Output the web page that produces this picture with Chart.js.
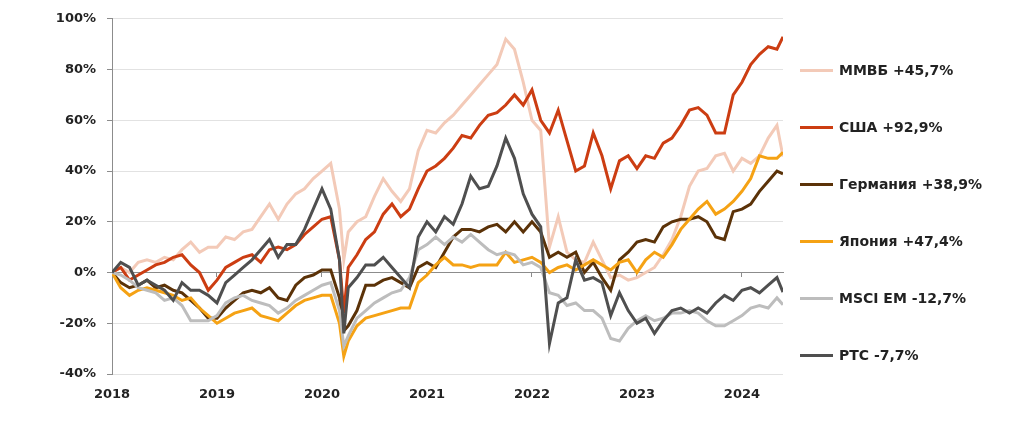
<!DOCTYPE html>
<html>
<head>
<meta charset="utf-8">
<script src="https://cdn.jsdelivr.net/npm/chart.js@4.4.0/dist/chart.umd.min.js"></script>
<style>
  html, body { margin: 0; padding: 0; background: #fff; }
  #wrap { position: relative; width: 1024px; height: 424px; }
  #legend { position: absolute; left: 0; top: 0; font-family: 'DejaVu Sans'; font-weight: bold; font-size: 14px; color: #222; }
  .item { position: absolute; left: 800px; height: 20px; line-height: 20px; white-space: nowrap; display: flex; align-items: center; }
  .item i { display: inline-block; width: 33px; height: 3px; margin-right: 6px; }
</style>
</head>
<body>
<div id="wrap">
  <canvas id="myChart" width="1024" height="424"></canvas>
  <div id="legend"></div>
</div>
<script>
// даты (месячные точки + дно марта 2020)
const dates = [
  '2018-01','2018-02','2018-03','2018-04','2018-05','2018-06','2018-07','2018-08','2018-09','2018-10','2018-11','2018-12',
  '2019-01','2019-02','2019-03','2019-04','2019-05','2019-06','2019-07','2019-08','2019-09','2019-10','2019-11','2019-12',
  '2020-01','2020-02','2020-03','2020-03-16','2020-04','2020-05','2020-06','2020-07','2020-08','2020-09','2020-10','2020-11','2020-12',
  '2021-01','2021-02','2021-03','2021-04','2021-05','2021-06','2021-07','2021-08','2021-09','2021-10','2021-11','2021-12',
  '2022-01','2022-02','2022-03','2022-04','2022-05','2022-06','2022-07','2022-08','2022-09','2022-10','2022-11','2022-12',
  '2023-01','2023-02','2023-03','2023-04','2023-05','2023-06','2023-07','2023-08','2023-09','2023-10','2023-11','2023-12',
  '2024-01','2024-02','2024-03','2024-04','2024-05','2024-05-22'
];

const names = ['ММВБ +45,7%', 'США +92,9%', 'Германия +38,9%', 'Япония +47,4%', 'MSCI EM  -12,7%', 'РТС -7,7%'];
const colors = ['#F3CAB8', '#CC3D12', '#5B3208', '#F5A214', '#BDBDBD', '#4F4F4F'];

const mmvb = [
  0, 2, 0, 4, 5, 4, 6, 5, 9, 12, 8, 10,
  10, 14, 13, 16, 17, 22, 27, 21, 27, 31, 33, 37,
  40, 43, 25, 5, 16, 20, 22, 30, 37, 32, 28, 33, 48,
  56, 55, 59, 62, 66, 70, 74, 78, 82, 92, 88, 75,
  60, 56, 10, 22, 8, 5, 4, 12, 5, -2, -1, -3,
  -2, 0, 2, 7, 13, 22, 34, 40, 41, 46, 47, 40,
  45, 43, 46, 53, 58, 45.7
];
const usa = [
  0, 2, -3, -1, 1, 3, 4, 6, 7, 3, 0, -7,
  -3, 2, 4, 6, 7, 4, 9, 10, 9, 11, 15, 18,
  21, 22, 5, -16, 2, 7, 13, 16, 23, 27, 22, 25, 33,
  40, 42, 45, 49, 54, 53, 58, 62, 63, 66, 70, 66,
  72, 60, 55, 64, 52, 40, 42, 55, 46, 33, 44, 46,
  41, 46, 45, 51, 53, 58, 64, 65, 62, 55, 55, 70,
  75, 82, 86, 89, 88, 92.9
];
const germany = [
  0, -4, -6, -5, -3, -6, -5, -7, -8, -11, -14, -18,
  -18, -14, -11, -8, -7, -8, -6, -10, -11, -5, -2, -1,
  1, 1, -10, -23, -21, -15, -5, -5, -3, -2, -4, -6, 2,
  4, 2, 8, 14, 17, 17, 16, 18, 19, 16, 20, 16,
  20, 16, 6, 8, 6, 8, 0, 4, -2, -7, 5, 8,
  12, 13, 12, 18, 20, 21, 21, 22, 20, 14, 13, 24,
  25, 27, 32, 36, 40, 38.9
];
const japan = [
  0, -6, -9, -7, -6, -7, -8, -9, -11, -10, -14, -17,
  -20, -18, -16, -15, -14, -17, -18, -19, -16, -13, -11, -10,
  -9, -9, -20, -33, -27, -21, -18, -17, -16, -15, -14, -14, -4,
  -1, 3, 6, 3, 3, 2, 3, 3, 3, 8, 4, 5,
  6, 4, 0, 2, 3, 1, 3, 5, 3, 1, 4, 5,
  0, 5, 8, 6, 11, 17, 21, 25, 28, 23, 25, 28,
  32, 37, 46, 45, 45, 47.4
];
const msciEm = [
  0, -1, -3, -6, -7, -8, -11, -10, -13, -19, -19, -19,
  -17, -12, -10, -9, -11, -12, -13, -16, -14, -11, -9, -7,
  -5, -4, -15, -29, -25, -18, -15, -12, -10, -8, -7, -2, 9,
  11, 14, 11, 14, 12, 15, 12, 9, 7, 8, 7, 3,
  4, 2, -8, -9, -13, -12, -15, -15, -18, -26, -27, -22,
  -19, -17, -19, -18, -16, -16, -15, -16, -19, -21, -21, -19,
  -17, -14, -13, -14, -10, -12.7
];
const rts = [
  0, 4, 2, -5, -3, -5, -7, -11, -4, -7, -7, -9,
  -12, -4, -1, 2, 5, 9, 13, 6, 11, 11, 17, 25,
  33, 25, 5, -24, -6, -2, 3, 3, 6, 2, -2, -6, 14,
  20, 16, 22, 19, 27, 38, 33, 34, 42, 53, 45, 31,
  23, 18, -28, -12, -10, 5, -3, -2, -4, -17, -8, -15,
  -20, -18, -24, -19, -15, -14, -16, -14, -16, -12, -9, -11,
  -7, -6, -8, -5, -2, -7.7
];

const series = [mmvb, usa, germany, japan, msciEm, rts];

let toYear = (s) => {
  const p = s.split('-').map(Number);
  return p[0] + (p[1] - 1) / 12 + ((p[2] || 1) - 1) / 365;
};
const xs = dates.map(toYear);
const xMin = 2018;
const xMax = xs[xs.length - 1];

Chart.defaults.font.family = 'DejaVu Sans';
Chart.defaults.font.size = 13;
Chart.defaults.font.weight = 'bold';
Chart.defaults.color = '#222';

let plot = () => {
  const ctx = document.getElementById('myChart');

  const dataset = {
    datasets: series.map((vals, i) => ({
      label: names[i],
      data: vals.map((v, j) => ({ x: xs[j], y: v })),
      borderColor: colors[i],
      borderWidth: 3,
      pointRadius: 0,
      tension: 0,
      fill: false,
      order: series.length - i  // последний ряд рисуется сверху
    }))
  };

  const config = {
    type: 'line',
    data: dataset,
    options: {
      responsive: false,
      animation: false,
      layout: { padding: { top: 15, right: 241, left: 0, bottom: 0 } },
      plugins: { legend: { display: false }, tooltip: { enabled: false } },
      scales: {
        x: {
          type: 'linear', min: xMin, max: xMax, position: 'bottom',
          afterFit: (s) => { s.height = 50; },
          ticks: {
            stepSize: 1, includeBounds: false, autoSkip: false, maxRotation: 0, padding: 13,
            callback: (v) => Number.isInteger(v) ? String(v) : ''
          },
          grid: { display: false, drawTicks: false },
          border: { display: false }
        },
        x0: {
          type: 'linear', min: xMin, max: xMax, position: { y: 0 },
          ticks: { display: false, stepSize: 1, includeBounds: false },
          grid: { drawOnChartArea: false, tickLength: 4, color: '#8c8c8c' },
          border: { color: '#8c8c8c', width: 1 }
        },
        y: {
          min: -40, max: 100,
          afterFit: (s) => { s.width = 112; },
          ticks: { stepSize: 20, padding: 11, callback: (v) => v + '%' },
          grid: { color: '#e2e2e2', tickColor: '#8c8c8c', tickLength: 5 },
          border: { color: '#8c8c8c' }
        }
      }
    }
  };
  const chart = new Chart(ctx, config);
};

let legend = () => {
  const box = document.getElementById('legend');
  names.forEach((n, i) => {
    const row = document.createElement('div');
    row.className = 'item';
    row.style.top = (60 + i * 57) + 'px';
    const mark = document.createElement('i');
    mark.style.background = colors[i];
    row.appendChild(mark);
    row.appendChild(document.createTextNode(n));
    box.appendChild(row);
  });
};

plot();
legend();
</script>
</body>
</html>
